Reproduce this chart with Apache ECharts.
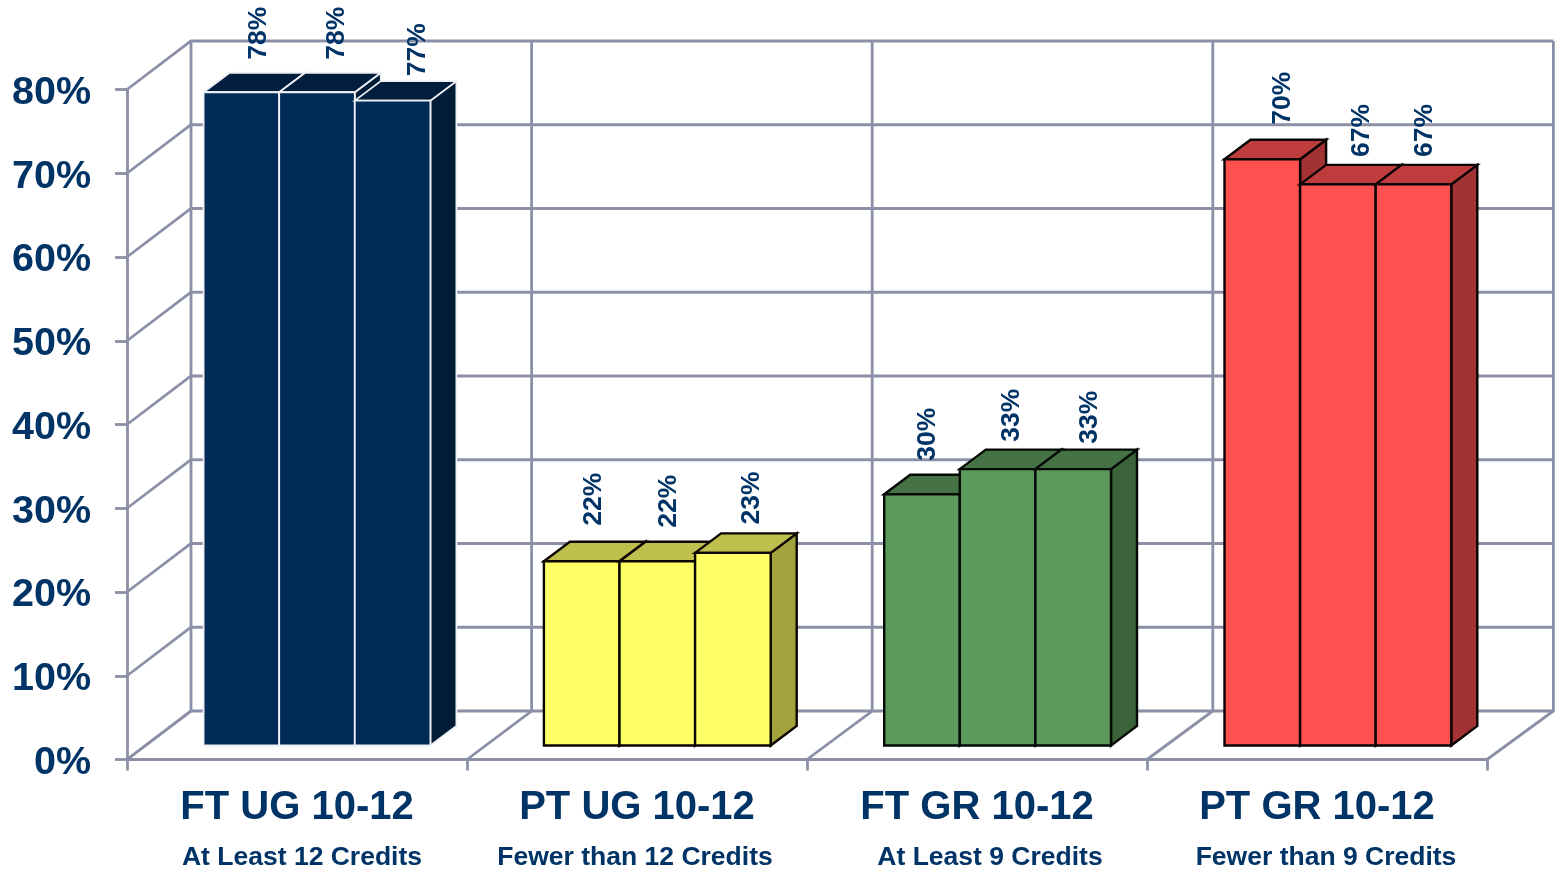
<!DOCTYPE html>
<html><head><meta charset="utf-8">
<style>html,body{margin:0;padding:0;background:#fff}#c{width:1556px;height:869px}</style>
<script src="https://cdn.jsdelivr.net/npm/echarts@6/dist/echarts.min.js"></script>
</head><body><div id="c"></div>
<script>
const categories = ['FT UG 10-12', 'PT UG 10-12', 'FT GR 10-12', 'PT GR 10-12'];
const subLabels = ['At Least 12 Credits', 'Fewer than 12 Credits', 'At Least 9 Credits', 'Fewer than 9 Credits'];
const yTicks = [0, 10, 20, 30, 40, 50, 60, 70, 80];
const firstBar = [78, 22, 30, 70];
const secondBar = [78, 22, 33, 67];
const thirdBar = [77, 23, 33, 67];

// layout and style, kept apart from the data
const FONT = '"Liberation Sans", Arial, sans-serif';
const TEXT = '#003366', GRIDC = '#8c90a6';
const WALL = [64, 48.5], DEPTH = [26, 19.5], FLOOR = [20, 14], BAR_W = 75.6, BACK_BAND = 340.6;
const palette = [
  {front:'#012b57', top:'#011e3e', side:'#011c37', edge:'#eef0f4', w:1.8},
  {front:'#ffff66', top:'#bfbf4d', side:'#a3a33e', edge:'#0c0600', w:2.4},
  {front:'#5c995c', top:'#457345', side:'#3a633a', edge:'#050a05', w:2.4},
  {front:'#ff5050', top:'#bf3c3c', side:'#a33333', edge:'#0a0404', w:2.4}
];
const subNudge = [5, -2, 13, 9];
const labelNudge = [
  [[17, 13], [20, 13], [25, 5]],
  [[12, 16], [11, 14], [19, 9]],
  [[6, 14], [14, 8], [16, 6]],
  [[20, 15], [24, 8], [11, 8]]
];

function wallItem(params, api) {
  const g = params.coordSys, kids = [];
  const style = {stroke: GRIDC, fill: 'none', lineWidth: 2.8};
  const v = api.value(0);
  const backEnd = g.x + WALL[0] + categories.length * BACK_BAND;
  if (params.dataIndex < yTicks.length) {
    const y = api.coord([0, v])[1];
    kids.push({type:'polyline', shape:{points:[[g.x, y],[g.x+WALL[0], y-WALL[1]],[backEnd, y-WALL[1]]]}, style});
  }
  if (params.dataIndex <= categories.length) {
    const x = g.x + params.dataIndex * g.width / categories.length;
    const xb = g.x + WALL[0] + params.dataIndex * BACK_BAND;
    const y0 = g.y + g.height;
    kids.push({type:'polyline', shape:{points:[[x, y0],[xb, y0-WALL[1]],[xb, g.y-WALL[1]]]}, style});
  }
  return {type:'group', children:kids};
}

function barItem(pos) {
  return function (params, api) {
    const i = params.dataIndex, value = api.value(1), p = palette[i];
    const cx = api.coord([i, 0])[0] + FLOOR[0] + i * 0.3;
    const yb = api.coord([i, 0])[1] - FLOOR[1];
    const yt = api.coord([i, value])[1] - FLOOR[1];
    const x0 = cx - 1.5 * BAR_W + pos * BAR_W, x1 = x0 + BAR_W;
    const [dx, dy] = DEPTH;
    const st = f => ({fill: f, stroke: p.edge, lineWidth: p.w, lineJoin: 'miter'});
    const n = labelNudge[i][pos];
    return {type:'group', children:[
      {type:'polygon', shape:{points:[[x1,yb],[x1+dx,yb-dy],[x1+dx,yt-dy],[x1,yt]]}, style:st(p.side)},
      {type:'polygon', shape:{points:[[x0,yt],[x0+dx,yt-dy],[x1+dx,yt-dy],[x1,yt]]}, style:st(p.top)},
      {type:'rect', shape:{x:x0,y:yt,width:BAR_W,height:yb-yt}, style:st(p.front)},
      {type:'text', x:x0+BAR_W/2+n[0], y:yt-dy-n[1], rotation:Math.PI/2, z2:50,
       style:{text:value+'%', fill:TEXT, font:'bold 26.5px '+FONT, align:'left', verticalAlign:'middle'}}
    ]};
  };
}

function subItem(params, api) {
  const i = params.dataIndex, c = api.coord([i, 0]);
  return {type:'text', x:c[0]+subNudge[i], y:c[1]+98,
    style:{text:subLabels[i], fill:TEXT, font:'bold 26.5px '+FONT, align:'center', verticalAlign:'middle'}};
}

const chart = echarts.init(document.getElementById('c'), null, {renderer:'canvas'});
const toPairs = a => a.map((v, i) => [categories[i], v]);
const wallData = yTicks.map(v => [v]);
chart.setOption({
  animation:false,
  backgroundColor:'#fff',
  grid:{left:127, top:89.5, width:1360, height:670, containLabel:false},
  xAxis:{type:'category', data:categories, boundaryGap:true,
    axisLine:{lineStyle:{color:GRIDC, width:3}},
    axisTick:{show:true, length:11, alignWithLabel:false, lineStyle:{color:GRIDC, width:2.8}},
    axisLabel:{color:TEXT, fontFamily:FONT, fontWeight:'bold', fontSize:40, margin:28, interval:0},
    splitLine:{show:false}},
  yAxis:{type:'value', min:0, max:80, interval:10,
    axisLine:{show:true, lineStyle:{color:GRIDC, width:2.8}},
    axisTick:{show:true, length:12, lineStyle:{color:GRIDC, width:2.8}},
    axisLabel:{color:TEXT, fontFamily:FONT, fontWeight:'bold', fontSize:39.5, margin:36, verticalAlign:'top', lineHeight:7, alignMinLabel:'right', alignMaxLabel:'right', formatter:'{value}%'},
    splitLine:{show:false}},
  series:[
    {type:'custom', name:'walls', z:1, coordinateSystem:'cartesian2d', renderItem:wallItem, data:wallData, encode:{y:0}, silent:true},
    {type:'custom', name:'first', z:3, renderItem:barItem(0), data:toPairs(firstBar), encode:{x:0,y:1}},
    {type:'custom', name:'second', z:4, renderItem:barItem(1), data:toPairs(secondBar), encode:{x:0,y:1}},
    {type:'custom', name:'third', z:5, renderItem:barItem(2), data:toPairs(thirdBar), encode:{x:0,y:1}},
    {type:'custom', name:'sub', z:6, renderItem:subItem, data:toPairs(firstBar), encode:{x:0,y:1}}
  ]
});
</script></body></html>
